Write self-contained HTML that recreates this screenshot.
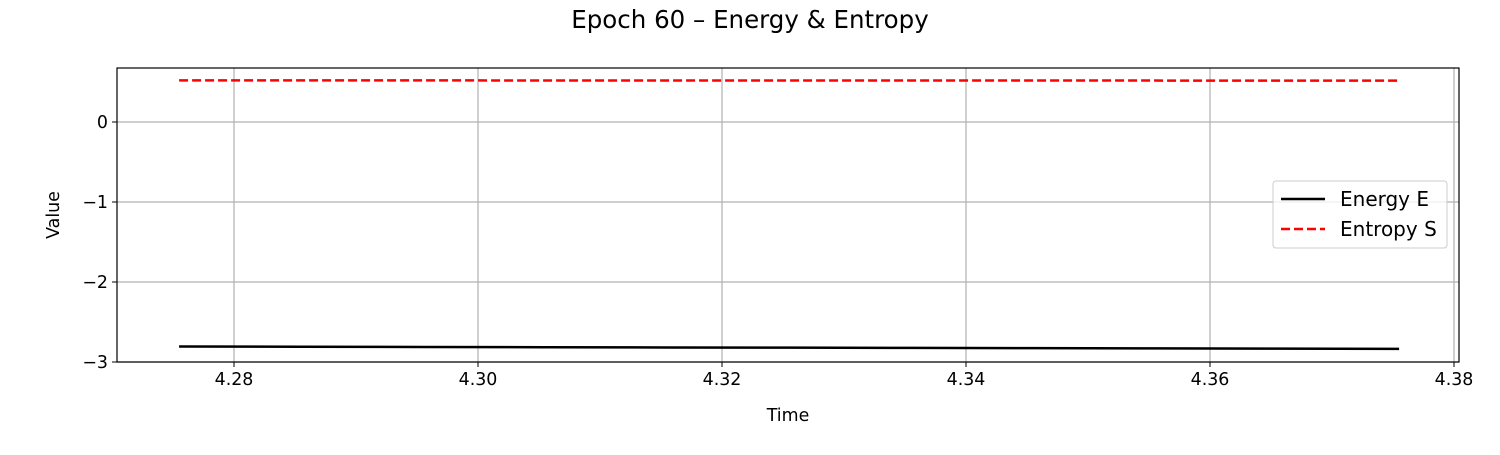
<!DOCTYPE html>
<html><head><meta charset="utf-8"><style>
body{margin:0;background:#fff;}
svg text{font-family:"DejaVu Sans","Liberation Sans",sans-serif;fill:#000;}
</style></head><body>
<svg id="chart" width="1500" height="450" xmlns="http://www.w3.org/2000/svg">
<text x="750" y="28" text-anchor="middle" style="font-size:24.5px">Epoch 60 – Energy &amp; Entropy</text>
<g id="grid"></g>
<g id="series"></g>
<rect x="117" y="68" width="1342" height="294" fill="none" stroke="#000" stroke-width="1.2"/>
<g id="ticks"></g>
<text x="788" y="421" text-anchor="middle" style="font-size:17.4px">Time</text>
<text transform="translate(59,215) rotate(-90)" text-anchor="middle" style="font-size:17.4px">Value</text>
<g>
<rect x="1273" y="181" width="174" height="67" rx="3" fill="#fff" fill-opacity="0.8" stroke="#ccc"/>
<line x1="1281" y1="199" x2="1325" y2="199" stroke="#000" stroke-width="2.5"/>
<text x="1340" y="206" style="font-size:20px">Energy E</text>
<line x1="1281" y1="229" x2="1325" y2="229" stroke="#f00" stroke-width="2.5" stroke-dasharray="9,4"/>
<text x="1340" y="236" style="font-size:20px">Entropy S</text>
</g>
</svg>
<script>
const times=[4.2755,4.2855,4.2955,4.3055,4.3155,4.3255,4.3355,4.3455,4.3555,4.3655,4.3755];
const energy=[-2.806,-2.809,-2.812,-2.815,-2.818,-2.821,-2.824,-2.827,-2.830,-2.833,-2.836];
const entropy=[0.52,0.52,0.52,0.519,0.519,0.519,0.518,0.518,0.518,0.517,0.517];
const xTicks=[4.28,4.30,4.32,4.34,4.36,4.38];
const yTicks=[0,-1,-2,-3];
const X0=117,X1=1459,Y0=362,Y1=68,xmin=4.27041,xmax=4.38041,ymin=-3,ymax=0.675;
const sx=v=>X0+(v-xmin)/(xmax-xmin)*(X1-X0);
const sy=v=>Y0-(v-ymin)/(ymax-ymin)*(Y0-Y1);
const NS="http://www.w3.org/2000/svg";
const mk=(t,a,p)=>{const e=document.createElementNS(NS,t);for(const k in a)e.setAttribute(k,a[k]);p.appendChild(e);return e;};
const grid=document.getElementById('grid'),ticks=document.getElementById('ticks'),ser=document.getElementById('series');
xTicks.forEach(v=>{const x=sx(v);
const g=mk('line',{x1:x,x2:x,y1:Y1,y2:Y0,stroke:'#b0b0b0','stroke-width':1.2},grid);


mk('line',{x1:x,x2:x,y1:Y0,y2:Y0+5,stroke:'#000'},ticks);
const t=mk('text',{x:x,y:Y0+23,'text-anchor':'middle',style:'font-size:17.4px'},ticks);t.textContent=v.toFixed(2);

});
yTicks.forEach(v=>{const y=sy(v);
const g=mk('line',{x1:X0,x2:X1,y1:y,y2:y,stroke:'#b0b0b0','stroke-width':1.2},grid);


mk('line',{x1:X0-5,x2:X0,y1:y,y2:y,stroke:'#000'},ticks);
const t=mk('text',{x:X0-9,y:y+6,'text-anchor':'end',style:'font-size:17.4px'},ticks);t.textContent=v<0?'\u2212'+(-v):String(v);

});
const pts=a=>a.map((v,i)=>sx(times[i])+','+sy(v)).join(' ');
const e=mk('polyline',{points:pts(energy),fill:'none',stroke:'#000','stroke-width':2.5},ser);


const s=mk('polyline',{points:pts(entropy),fill:'none',stroke:'#f00','stroke-width':2.5,'stroke-dasharray':'9,4'},ser);


</script>
</body></html>
